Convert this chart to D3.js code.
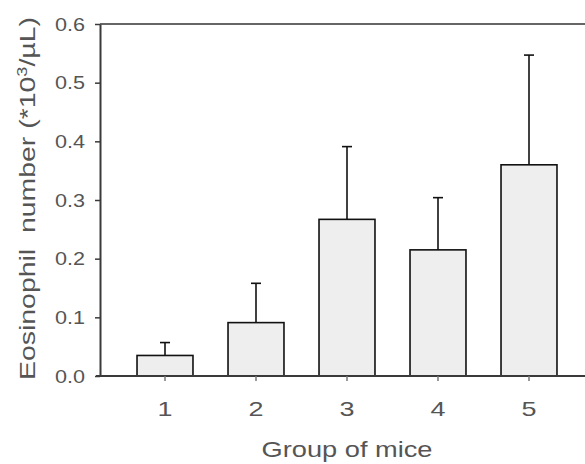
<!DOCTYPE html>
<html>
<head>
<meta charset="utf-8">
<script src="https://cdn.jsdelivr.net/npm/d3@7"></script>
<style>
	body { margin: 0; background: #fff; }
	svg { display: block; font-family: "Liberation Sans", Arial, sans-serif; }
</style>
</head>
<body>
<svg id="chart" width="585" height="464"></svg>
<script>
	// data
	var groups = ["1", "2", "3", "4", "5"];
	var means = [0.035, 0.091, 0.267, 0.215, 0.360];
	var upperErr = [0.057, 0.158, 0.391, 0.304, 0.547];
	var yTicks = [0.0, 0.1, 0.2, 0.3, 0.4, 0.5, 0.6];

	var svg = d3.select("#chart");
	var plotLeft = 100, plotRight = 585, plotTop = 24, plotBottom = 376;

	var x = d3.scaleBand()
		.domain(groups)
		.range([119.5, 574.5])
		.paddingInner(0.385)
		.paddingOuter(0.1925);

	var y = d3.scaleLinear()
		.domain([0, 0.6])
		.range([plotBottom, plotTop]);

	var axisColor = "#3a3a3a", textColor = "#555";

	// top line of the frame
	svg.append("line")
		.attr("x1", plotLeft).attr("x2", plotRight)
		.attr("y1", plotTop).attr("y2", plotTop)
		.attr("stroke", "#666").attr("stroke-width", 2);

	// y axis
	var gy = svg.append("g")
		.attr("transform", "translate(" + plotLeft + ",0)")
		.call(d3.axisLeft(y).tickValues(yTicks).tickFormat(d3.format(".1f")).tickSize(5).tickSizeOuter(0).tickPadding(10));
	gy.select(".domain").attr("stroke", axisColor).attr("stroke-width", 2);
	gy.selectAll(".tick line").attr("stroke", axisColor).attr("stroke-width", 1.5);
	gy.selectAll(".tick text").attr("fill", textColor).style("font-size", "19px")
		.attr("textLength", 30).attr("lengthAdjust", "spacingAndGlyphs");

	// bars
	svg.selectAll("rect.bar")
		.data(groups)
		.enter().append("rect")
		.attr("class", "bar")
		.attr("x", function(d) { return x(d); })
		.attr("width", x.bandwidth())
		.attr("y", function(d, i) { return y(means[i]); })
		.attr("height", function(d, i) { return y(0) - y(means[i]); })
		.attr("fill", "#eeeeee")
		.attr("stroke", "#111")
		.attr("stroke-width", 1.6);

	// upper error bars
	var cx = function(d) { return x(d) + x.bandwidth() / 2; };
	svg.selectAll("line.err")
		.data(groups)
		.enter().append("line")
		.attr("class", "err")
		.attr("x1", cx).attr("x2", cx)
		.attr("y1", function(d, i) { return y(means[i]); })
		.attr("y2", function(d, i) { return y(upperErr[i]); })
		.attr("stroke", "#111").attr("stroke-width", 1.6);
	svg.selectAll("line.cap")
		.data(groups)
		.enter().append("line")
		.attr("class", "cap")
		.attr("x1", function(d) { return cx(d) - 5; })
		.attr("x2", function(d) { return cx(d) + 5; })
		.attr("y1", function(d, i) { return y(upperErr[i]); })
		.attr("y2", function(d, i) { return y(upperErr[i]); })
		.attr("stroke", "#111").attr("stroke-width", 1.6);

	// x axis
	var gx = svg.append("g")
		.attr("transform", "translate(0," + plotBottom + ")")
		.call(d3.axisBottom(x).tickSize(5).tickPadding(20).tickSizeOuter(0));
	gx.select(".domain").attr("d", "M" + (plotLeft - 4) + ",0H" + plotRight)
		.attr("stroke", axisColor).attr("stroke-width", 2);
	gx.selectAll(".tick line").attr("stroke", "#777").attr("stroke-width", 1.5);
	gx.selectAll(".tick text").attr("fill", textColor).style("font-size", "21px")
		.attr("textLength", 15).attr("lengthAdjust", "spacingAndGlyphs");

	// axis titles
	svg.append("text")
		.attr("x", 347).attr("y", 457)
		.attr("text-anchor", "middle")
		.attr("fill", textColor)
		.style("font-size", "22px")
		.attr("textLength", 171).attr("lengthAdjust", "spacingAndGlyphs")
		.text("Group of mice");

	var yt = svg.append("text")
		.attr("transform", "translate(35,198.5) rotate(-90)")
		.attr("text-anchor", "middle")
		.attr("fill", textColor)
		.style("font-size", "22px")
		.attr("textLength", 363).attr("lengthAdjust", "spacingAndGlyphs");
	yt.append("tspan").text("Eosinophil\u00a0\u00a0number (*10");
	yt.append("tspan").attr("dy", -8).style("font-size", "14px").text("3");
	yt.append("tspan").attr("dy", 8).text("/\u00b5L)");
</script>
</body>
</html>
